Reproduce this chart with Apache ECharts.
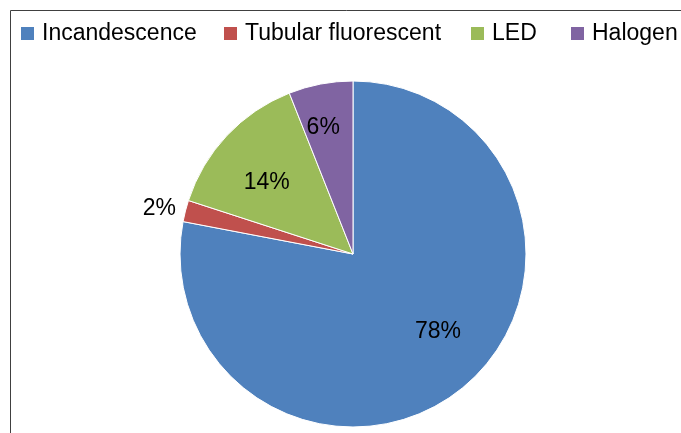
<!DOCTYPE html>
<html>
<head>
<meta charset="utf-8">
<script src="https://cdn.jsdelivr.net/npm/echarts@6/dist/echarts.min.js"></script>
<style>
  html, body { margin: 0; padding: 0; background: #fff; }
  #pie { width: 681px; height: 433px; }
</style>
</head>
<body>
<div id="pie"></div>
<script>
var categories = ['Incandescence', 'Tubular fluorescent', 'LED', 'Halogen'];
var shares = [78, 2, 14, 6];
var colors = ['#4F81BD', '#C0504D', '#9BBB59', '#8064A2'];
// nudge labels to where the original sits them
var labelOffsets = [[28, 9], [-107, -23], [-21, -10], [-13, -38]];
// legend slots are unevenly spaced in the original
var legendLefts = [21, 224, 471, 571];

var font = 'Liberation Sans, Arial, sans-serif';

var mychart = echarts.init(document.getElementById('pie'));
var option = {
  animation: false,
  color: colors,
  graphic: [{
    type: 'rect',
    shape: { x: 10.5, y: 10.5, width: 800, height: 600 },
    style: { fill: 'none', stroke: '#404040', lineWidth: 1 },
    silent: true
  }],
  legend: categories.map(function (name, i) {
    return {
      left: legendLefts[i],
      top: 22,
      padding: 0,
      itemWidth: 13,
      itemHeight: 13,
      icon: 'rect',
      itemStyle: { borderWidth: 0 },
      textStyle: {
        fontFamily: font,
        fontSize: 23,
        color: '#000',
        padding: [0, 0, 0, 3]
      },
      data: [name]
    };
  }),
  series: [{
    type: 'pie',
    center: [353, 254],
    radius: 173,
    startAngle: 90,
    clockwise: true,
    itemStyle: { borderColor: '#fff', borderWidth: 1 },
    label: {
      position: 'inside',
      fontFamily: font,
      fontSize: 23,
      color: '#000',
      formatter: '{c}%'
    },
    labelLine: { show: false },
    emphasis: { disabled: true },
    data: categories.map(function (name, i) {
      return {
        name: name,
        value: shares[i],
        label: { offset: labelOffsets[i] }
      };
    })
  }]
};
mychart.setOption(option);
</script>
</body>
</html>
